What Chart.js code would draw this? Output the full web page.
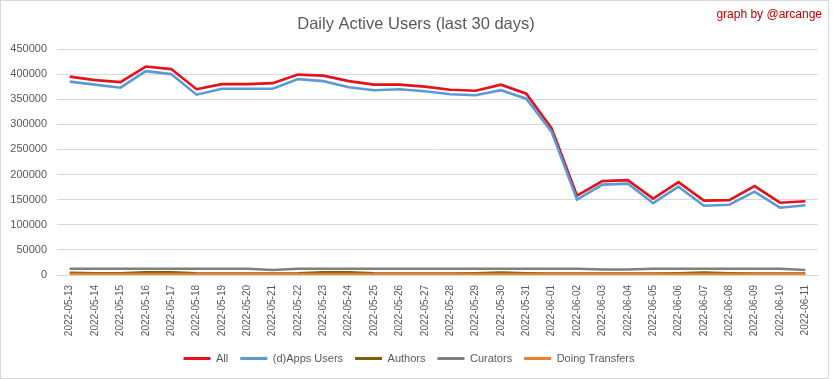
<!DOCTYPE html>
<html>
<head>
<meta charset="utf-8">
<script src="https://cdn.jsdelivr.net/npm/chart.js@4"></script>
<style>
html,body{margin:0;padding:0;background:#fff;}
#wrap{position:absolute;left:0;top:0;width:833px;height:379px;}
</style>
</head>
<body>
<div id="wrap"><canvas id="c" width="833" height="379"></canvas></div>
<script>
const dates = ["2022-05-13","2022-05-14","2022-05-15","2022-05-16","2022-05-17","2022-05-18","2022-05-19","2022-05-20","2022-05-21","2022-05-22","2022-05-23","2022-05-24","2022-05-25","2022-05-26","2022-05-27","2022-05-28","2022-05-29","2022-05-30","2022-05-31","2022-06-01","2022-06-02","2022-06-03","2022-06-04","2022-06-05","2022-06-06","2022-06-07","2022-06-08","2022-06-09","2022-06-10","2022-06-11"];
const allUsers = [395000,388000,384000,415000,410000,370000,380000,380000,382000,399000,397000,386000,379000,379000,375000,369000,367000,379000,361000,292000,158000,187000,189000,152000,185000,148000,149000,177000,144000,147000];
const dappsUsers = [385000,379000,373000,406000,400000,359000,371000,371000,371000,390000,386000,374000,368000,370000,366000,360000,358000,368000,351000,285000,150000,180000,182000,143000,176000,138000,140000,166000,134000,139000];
const authors = [4500,3500,3500,5500,5500,3500,3000,3000,3000,3500,5500,5500,3500,3000,3000,3000,3500,5000,3500,3000,3000,3000,3000,3000,3500,5000,3500,3000,3000,3000];
const curators = [12500,12500,12500,12500,12500,12500,12500,12500,10000,12500,12500,12500,12500,12500,12500,12500,12500,12500,12500,12500,12500,11000,11000,12500,12500,12500,12500,12500,12500,10000];
const transfers = [2000,2000,2000,2000,2000,2000,2000,2000,2000,2000,2000,2000,2000,2000,2000,2000,2000,2000,2000,2000,2000,2000,2000,2000,2000,2000,2000,2000,2000,2000];
const yTicks = [0,50000,100000,150000,200000,250000,300000,350000,400000,450000];

const seriesNames = ["All","(d)Apps Users","Authors","Curators","Doing Transfers"];
const seriesColors = ["#E3121B","#5B9BD5","#7F6000","#7F7F7F","#ED7D31"];
const seriesData = [allUsers,dappsUsers,authors,curators,transfers];

const FONT = "'Liberation Sans', Arial, sans-serif";
const TXT = "#595959";

const decor = {
  id: 'decor',
  beforeDraw(chart) {
    const ctx = chart.ctx;
    ctx.save();
    ctx.fillStyle = '#fff';
    ctx.fillRect(0,0,chart.width,chart.height);
    ctx.strokeStyle = '#D9D9D9';
    ctx.lineWidth = 1;
    ctx.strokeRect(0.5,0.5,828,378);
    ctx.restore();
  },
  afterDraw(chart) {
    const ctx = chart.ctx;
    ctx.save();
    ctx.textBaseline = 'middle';
    ctx.textAlign = 'center';
    ctx.fillStyle = TXT;
    ctx.font = "16.5px " + FONT;
    ctx.fillText("Daily Active Users (last 30 days)", 416, 24);
    ctx.textAlign = 'right';
    ctx.fillStyle = '#C00000';
    ctx.font = "12px " + FONT;
    ctx.fillText("graph by @arcange", 822, 15);
    ctx.restore();
  }
};

new Chart(document.getElementById('c'), {
  type: 'line',
  data: {
    labels: dates,
    datasets: seriesData.map((d,i) => ({
      label: seriesNames[i],
      data: d,
      borderColor: seriesColors[i],
      backgroundColor: seriesColors[i],
      borderWidth: 2.6,
      pointRadius: 0,
      tension: 0,
      fill: false,
      order: 5 - i
    }))
  },
  options: {
    responsive: false,
    animation: false,
    devicePixelRatio: 1,
    layout: { padding: { left: 0, right: 15, top: 49, bottom: 5 } },
    plugins: {
      title: { display: false },
      tooltip: { enabled: false },
      legend: {
        position: 'bottom',
        labels: {
          boxWidth: 27,
          boxHeight: 3,
          padding: 12,
          color: TXT,
          font: { family: FONT, size: 11 },
          sort: (a,b) => a.datasetIndex - b.datasetIndex,
          generateLabels(chart) {
            const items = Chart.defaults.plugins.legend.labels.generateLabels(chart);
            items.forEach(it => { it.lineWidth = 0; it.fillStyle = seriesColors[it.datasetIndex]; it.strokeStyle = seriesColors[it.datasetIndex]; });
            return items;
          }
        }
      }
    },
    scales: {
      x: {
        offset: true,
        afterFit(s) { s.height = 66; },
        grid: { display: false, drawTicks: false },
        border: { display: true, color: '#D9D9D9' },
        ticks: {
          color: TXT,
          font: { family: FONT, size: 10 },
          maxRotation: 90, minRotation: 90,
          autoSkip: false,
          padding: 10
        }
      },
      y: {
        min: 0, max: 450000,
        afterFit(s) { s.width = 57; },
        afterBuildTicks(s) { s.ticks = yTicks.map(v => ({value: v})); },
        grid: { color: '#D9D9D9', drawTicks: false },
        border: { display: false },
        ticks: {
          color: TXT,
          font: { family: FONT, size: 11 },
          padding: 10,
          callback: v => String(v)
        }
      }
    }
  },
  plugins: [decor]
});
</script>
</body>
</html>
